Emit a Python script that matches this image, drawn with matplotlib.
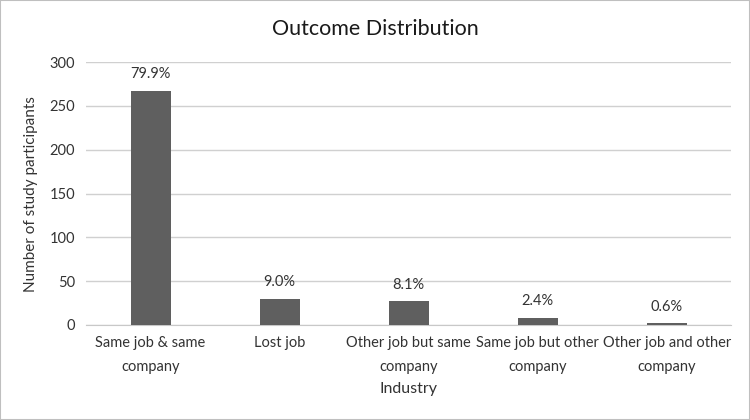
import matplotlib
matplotlib.use("Agg")
import matplotlib.pyplot as plt
from matplotlib.patches import Rectangle

categories = ["Same job & same\ncompany", "Lost job", "Other job but same\ncompany",
              "Same job but other\ncompany", "Other job and other\ncompany"]
counts = [267, 30, 27, 8, 2]
pct_labels = ["79.9%", "9.0%", "8.1%", "2.4%", "0.6%"]

plt.rcParams['font.family'] = ['Lato', 'DejaVu Sans']
txt = "#333333"

fig = plt.figure(figsize=(7.5, 4.2), dpi=100)
ax = fig.add_axes([0.1147, 0.2262, 0.8603, 0.6258])
x = list(range(len(categories)))
ax.bar(x, counts, width=0.31, color="#5f5f5f", zorder=3)
ax.set_xlim(-0.5, len(categories) - 0.5)
ax.set_ylim(0, 300)
ax.set_yticks(range(0, 301, 50))
ax.yaxis.grid(True, color="#d0d0d0", linewidth=1.0, zorder=0)
for s in ["top", "right", "left"]:
    ax.spines[s].set_visible(False)
ax.spines["bottom"].set_color("#c8c8c8")
ax.tick_params(axis="both", length=0, labelsize=10.5, colors=txt, pad=8)
ax.set_xticks(x)
ax.set_xticklabels(categories, fontsize=10.5, color=txt, linespacing=1.9)
for xi, c, lab in zip(x, counts, pct_labels):
    ax.annotate(lab, (xi, c), xytext=(0, 7), textcoords="offset points",
                ha="center", va="bottom", fontsize=10.5, color=txt)
ax.set_ylabel("Number of study participants", fontsize=11, color=txt, labelpad=8)
ax.set_xlabel("Industry", fontsize=11.5, color=txt, labelpad=6)
fig.text(0.5, 0.93, "Outcome Distribution", ha="center", va="center", fontsize=15.5, color="#1a1a1a")
fig.patches.append(Rectangle((0, 0), 1, 1, transform=fig.transFigure, fill=False,
                             edgecolor="#bfbfbf", linewidth=1.5))
fig.savefig("out.png", dpi=100)
